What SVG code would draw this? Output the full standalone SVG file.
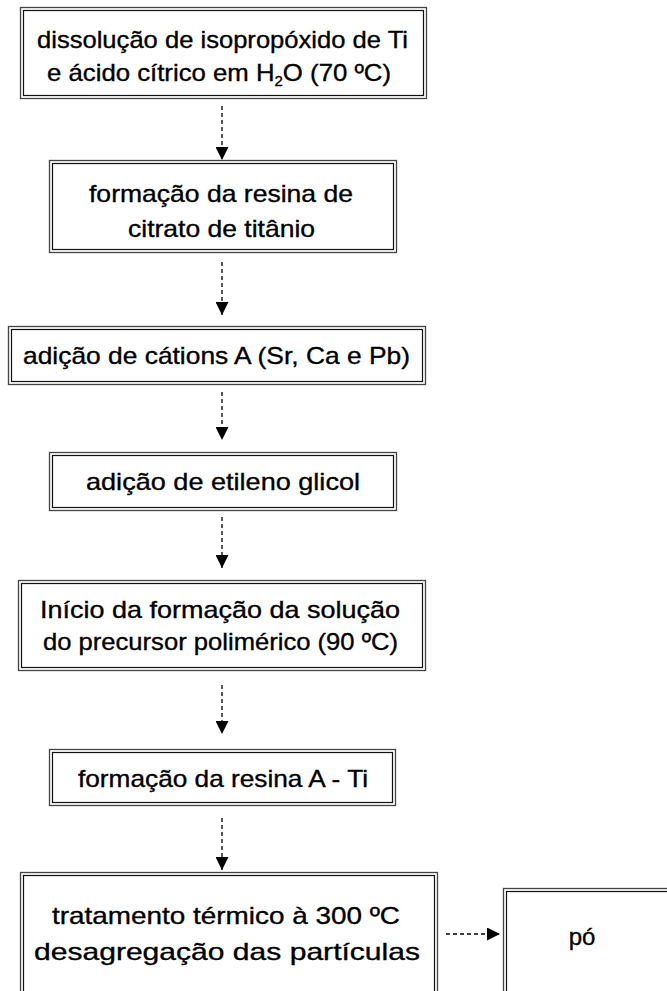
<svg xmlns="http://www.w3.org/2000/svg" width="667" height="991" viewBox="0 0 667 991">
<defs>
<style>
.o{fill:#fff;stroke:#444;stroke-width:1.3}
.i{fill:none;stroke:#111;stroke-width:1.2}
.t{font-family:"Liberation Sans",Arial,sans-serif;font-size:24px;fill:#000;stroke:#000;stroke-width:0.35}
.c{stroke:#000;stroke-width:1.3;stroke-dasharray:4 3;fill:none}
</style>
<marker id="ah" viewBox="0 0 10 10" refX="10" refY="5" markerWidth="14" markerHeight="13" markerUnits="userSpaceOnUse" orient="auto">
<path d="M0,0 L10,5 L0,10 Z" fill="#000"/>
</marker>
</defs>
<rect width="667" height="991" fill="#fff"/>
<g id="connectors">
<path class="c" d="M222,106 V160" marker-end="url(#ah)"/>
<path class="c" d="M222,262 V315" marker-end="url(#ah)"/>
<path class="c" d="M222,392 V440" marker-end="url(#ah)"/>
<path class="c" d="M222,517 V568" marker-end="url(#ah)"/>
<path class="c" d="M222,685 V734" marker-end="url(#ah)"/>
<path class="c" d="M222,818 V870" marker-end="url(#ah)"/>
<path class="c" d="M446,934 H500" marker-end="url(#ah)"/>
</g>
<g id="n1">
<rect class="o" x="20.5" y="7.5" width="406" height="91"/>
<rect class="i" x="23.5" y="10.5" width="400" height="85"/>
<text class="t" x="37" y="48" textLength="371" lengthAdjust="spacingAndGlyphs">dissolução de isopropóxido de Ti</text>
<text class="t" x="47" y="81" textLength="344" lengthAdjust="spacingAndGlyphs">e ácido cítrico em H<tspan font-size="14" dy="5">2</tspan><tspan dy="-5">O (70 ºC)</tspan></text>
</g>
<g id="n2">
<rect class="o" x="49.5" y="160.5" width="347" height="92"/>
<rect class="i" x="52.5" y="163.5" width="341" height="86"/>
<text class="t" x="89" y="202" textLength="264" lengthAdjust="spacingAndGlyphs">formação da resina de</text>
<text class="t" x="128" y="237" textLength="187" lengthAdjust="spacingAndGlyphs">citrato de titânio</text>
</g>
<g id="n3">
<rect class="o" x="8.5" y="326.5" width="417" height="58"/>
<rect class="i" x="11.5" y="329.5" width="411" height="52"/>
<text class="t" x="23" y="364" textLength="387" lengthAdjust="spacingAndGlyphs">adição de cátions A (Sr, Ca e Pb)</text>
</g>
<g id="n4">
<rect class="o" x="49.5" y="452.5" width="347" height="58"/>
<rect class="i" x="52.5" y="455.5" width="341" height="52"/>
<text class="t" x="86" y="490" textLength="274" lengthAdjust="spacingAndGlyphs">adição de etileno glicol</text>
</g>
<g id="n5">
<rect class="o" x="18.5" y="580.5" width="407" height="90"/>
<rect class="i" x="21.5" y="583.5" width="401" height="84"/>
<text class="t" x="40" y="618" textLength="360" lengthAdjust="spacingAndGlyphs">Início da formação da solução</text>
<text class="t" x="43" y="650" textLength="355" lengthAdjust="spacingAndGlyphs">do precursor polimérico (90 ºC)</text>
</g>
<g id="n6">
<rect class="o" x="49.5" y="749.5" width="346" height="56"/>
<rect class="i" x="52.5" y="752.5" width="340" height="50"/>
<text class="t" x="78" y="787" textLength="290" lengthAdjust="spacingAndGlyphs">formação da resina A - Ti</text>
</g>
<g id="n7">
<rect class="o" x="20.5" y="872.5" width="417" height="120"/>
<rect class="i" x="23.5" y="875.5" width="411" height="120"/>
<text class="t" x="52" y="924" textLength="348" lengthAdjust="spacingAndGlyphs">tratamento térmico à 300 ºC</text>
<text class="t" x="34" y="960" textLength="386" lengthAdjust="spacingAndGlyphs">desagregação das partículas</text>
</g>
<g id="n8">
<rect class="o" x="503.5" y="888.5" width="170" height="110"/>
<rect class="i" x="506.5" y="891.5" width="170" height="110"/>
<text class="t" x="582" y="945" text-anchor="middle">pó</text>
</g>
</svg>
